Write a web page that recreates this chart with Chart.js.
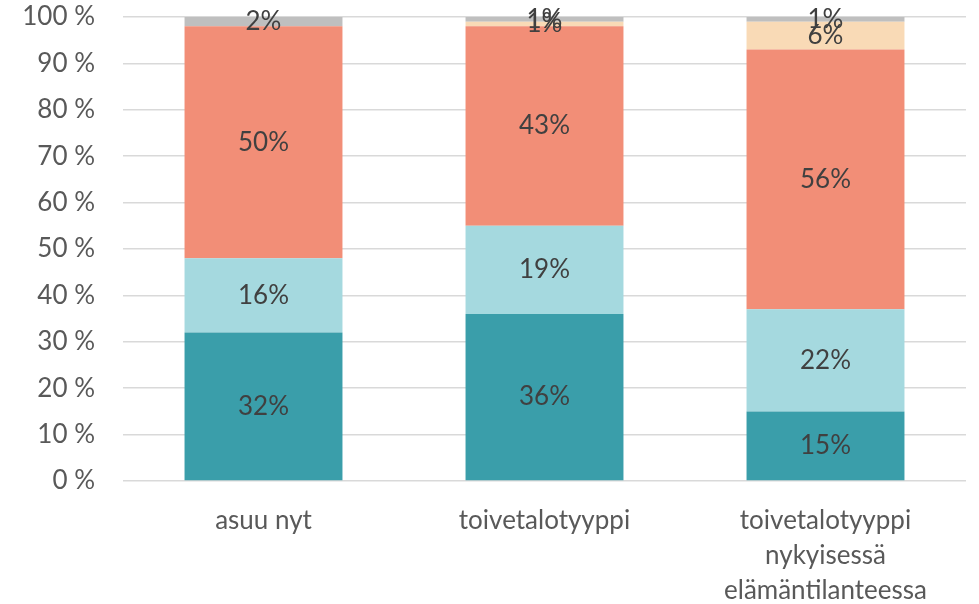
<!DOCTYPE html>
<html>
<head>
<meta charset="utf-8">
<script src="https://cdn.jsdelivr.net/npm/chart.js@4"></script>
<style>
  html, body { margin: 0; padding: 0; background: #fff; }
  #wrap { width: 979px; height: 604px; }
</style>
</head>
<body>
<div id="wrap"><canvas id="kaavio"></canvas></div>
<script>
// Kategoriat (x-akseli)
const kategoriat = [
  'asuu nyt',
  'toivetalotyyppi',
  ['toivetalotyyppi', 'nykyisessä', 'elämäntilanteessa']
];

// Sarjat, alhaalta ylös (%)
const sarja1 = [32, 36, 15];
const sarja2 = [16, 19, 22];
const sarja3 = [50, 43, 56];
const sarja4 = [0, 1, 6];
const sarja5 = [2, 1, 1];

const varit = ['#3A9EAA', '#A5D9DF', '#F28E77', '#F9DAB6', '#BFBFBF'];

// Arvojen tekstit pylväiden keskelle
const arvoTekstit = {
  id: 'arvoTekstit',
  afterDatasetsDraw(chart) {
    const c = chart.ctx;
    c.save();
    c.font = '26px Lato';
    c.fillStyle = '#404040';
    c.textAlign = 'center';
    c.textBaseline = 'middle';
    chart.data.datasets.forEach((ds, i) => {
      const meta = chart.getDatasetMeta(i);
      meta.data.forEach((bar, j) => {
        const v = ds.data[j];
        if (!v) return;
        const y = (bar.y + bar.base) / 2;
        c.fillText(v + '%', bar.x, y);
      });
    });
    c.restore();
  }
};

const datasetit = [sarja1, sarja2, sarja3, sarja4, sarja5].map((d, i) => ({
  data: d,
  backgroundColor: varit[i],
  borderWidth: 0,
  categoryPercentage: 1,
  barPercentage: 0.562
}));

new Chart(document.getElementById('kaavio'), {
  type: 'bar',
  data: { labels: kategoriat, datasets: datasetit },
  plugins: [arvoTekstit],
  options: {
    responsive: true,
    maintainAspectRatio: false,
    animation: false,
    layout: { padding: { top: 0, right: 13, left: 0, bottom: 0 } },
    plugins: { legend: { display: false }, tooltip: { enabled: false } },
    scales: {
      x: {
        stacked: true,
        grid: { display: false },
        border: { display: false },
        ticks: { color: '#595959', font: { family: 'Lato', size: 26, lineHeight: 1.35 }, padding: 14, maxRotation: 0 },
        afterFit: s => { s.height = 123; }
      },
      y: {
        stacked: true,
        min: 0,
        max: 100,
        grid: { color: '#D9D9D9', lineWidth: 1.5, drawTicks: false },
        border: { display: false },
        ticks: {
          stepSize: 10,
          color: '#595959',
          font: { family: 'Lato', size: 26 },
          padding: 28,
          callback: v => v + ' %'
        },
        afterFit: s => { s.paddingTop = 17; s.width = 123; }
      }
    }
  }
});
</script>
</body>
</html>
